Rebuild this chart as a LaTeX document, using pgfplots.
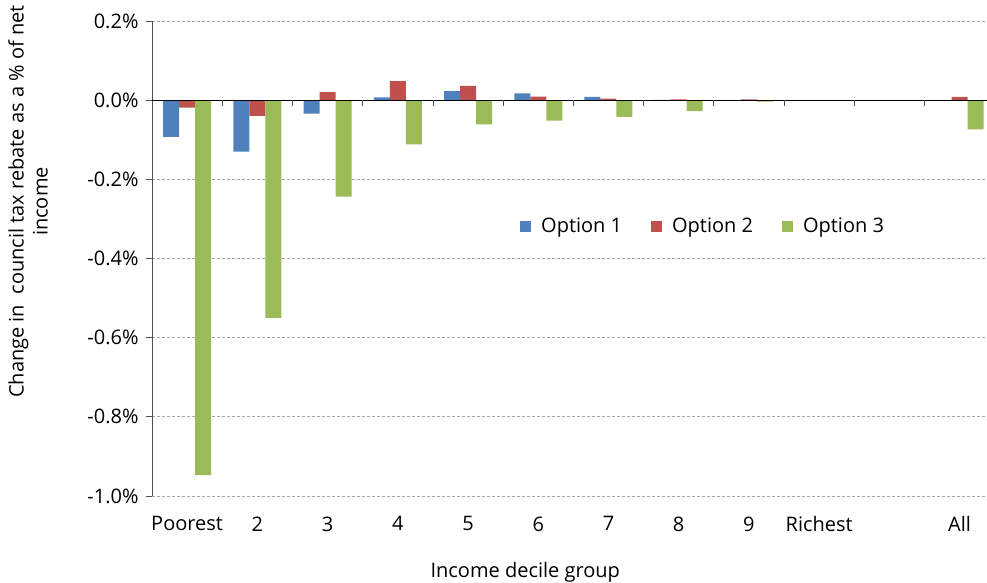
\documentclass[border=0pt]{standalone}
\usepackage{fontspec}
\setmainfont{Open Sans}
\usepackage{pgfplots}
\pgfplotsset{compat=1.18}
\definecolor{opt1}{HTML}{4F81BD}
\definecolor{opt2}{HTML}{C0504D}
\definecolor{opt3}{HTML}{9BBB59}

\begin{document}
\begin{tikzpicture}
\begin{axis}[
    scale only axis,
    width=835pt, height=475pt,
    ybar=0pt, bar width=16pt,
    xmin=-0.5, xmax=11.39,
    ymin=-1.0, ymax=0.2,
    font=\fontsize{20}{24}\selectfont,
    axis x line*=bottom,
    x axis line style={draw=none},
    xtick={0,1,2,3,4,5,6,7,8,9,11},
    xticklabels={Poorest,2,3,4,5,6,7,8,9,Richest,All},
    major x tick style={draw=none},
    xticklabel style={yshift=-11pt},
    axis y line*=left,
    y axis line style={draw=black!70, line width=0.8pt},
    ytick={-1.0,-0.8,-0.6,-0.4,-0.2,0,0.2},
    yticklabels={-1.0\%,-0.8\%,-0.6\%,-0.4\%,-0.2\%,0.0\%,0.2\%},
    tick align=outside,
    major tick length=6pt,
    major y tick style={draw=black!70, line width=0.8pt},
    ymajorgrids,
    major grid style={dash pattern=on 3pt off 2pt, draw=black!35, line width=0.8pt},
    yticklabel style={xshift=-4pt},
    xlabel={Income decile group},
    xlabel style={at={(axis description cs:0.447,0)}, anchor=north, yshift=-63pt},
    ylabel={Change in\ \ council tax rebate as a \% of net\\income},
    ylabel style={at={(axis description cs:-0.1485,0.62)}, anchor=center, align=center},
    legend style={at={(axis description cs:0.66,0.568)}, anchor=center,
        draw=none, fill=none, legend columns=3,
        /tikz/every odd column/.append style={column sep=8pt},
        /tikz/every even column/.append style={column sep=27pt}},
    legend image code/.code={\fill[#1] (0pt,-5.5pt) rectangle (11pt,5.5pt);},
    clip=false,
]
\addplot[fill=opt1, draw=none] coordinates {
(0,-0.093) (1,-0.130) (2,-0.034) (3,0.007) (4,0.023) (5,0.017) (6,0.008) (7,0.0005) (8,0.0003) (9,0) (11,-0.001)};
\addplot[fill=opt2, draw=none] coordinates {
(0,-0.019) (1,-0.040) (2,0.020) (3,0.048) (4,0.036) (5,0.009) (6,0.004) (7,0.002) (8,0.002) (9,0) (11,0.008)};
\addplot[fill=opt3, draw=none] coordinates {
(0,-0.947) (1,-0.550) (2,-0.244) (3,-0.112) (4,-0.061) (5,-0.052) (6,-0.042) (7,-0.028) (8,-0.004) (9,0) (11,-0.074)};
\legend{Option 1,Option 2,Option 3}
\draw[black, line width=1.2pt] (axis cs:-0.5,0) -- (axis cs:11.39,0);
\pgfplotsinvokeforeach{0.5,1.5,2.5,3.5,4.5,5.5,6.5,7.5,8.5,9.5,10.5}{
  \draw[black!70, line width=0.8pt] (axis cs:#1,0) -- ++(0pt,-6pt);
}
\end{axis}
\pgfresetboundingbox
\path ([xshift=-152pt,yshift=-87pt]current axis.south west) rectangle ([yshift=21pt]current axis.north east);
\end{tikzpicture}
\end{document}
